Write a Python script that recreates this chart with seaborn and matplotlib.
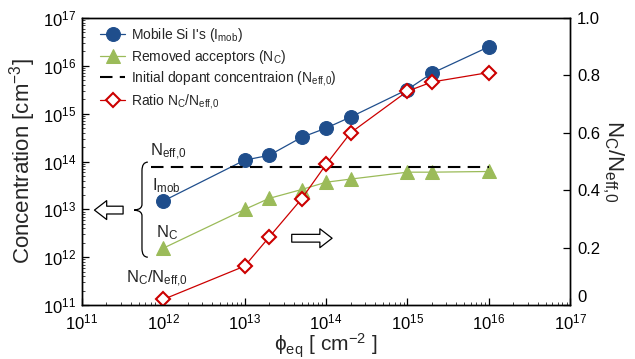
import numpy as np
import pandas as pd
import matplotlib
matplotlib.use('Agg')
import matplotlib.pyplot as plt
import matplotlib.ticker as mticker
from matplotlib.path import Path
from matplotlib.patches import PathPatch
import seaborn as sns

# data
fluence = [1e12, 1e13, 2e13, 5e13, 1e14, 2e14, 1e15, 2e15, 1e16]
i_mob = [1.5e13, 1.07e14, 1.35e14, 3.2e14, 5.0e14, 8.5e14, 3.2e15, 7.0e15, 2.5e16]
n_c = [1.55e12, 1.0e13, 1.7e13, 2.6e13, 3.7e13, 4.3e13, 6.0e13, 6.0e13, 6.2e13]
ratio = [0.02, 0.136, 0.237, 0.37, 0.49, 0.60, 0.745, 0.777, 0.81]
n_eff0 = 7.6e13
n_eff0_span = [7e11, 1e16]

df = pd.DataFrame({'phi': fluence, 'imob': i_mob, 'nc': n_c, 'ratio': ratio})

sns.set_style('ticks')
plt.rcParams['font.family'] = ['Liberation Sans', 'DejaVu Sans']
plt.rcParams['mathtext.fontset'] = 'custom'
plt.rcParams['mathtext.rm'] = 'Liberation Sans'
plt.rcParams['mathtext.it'] = 'Liberation Sans:italic'
plt.rcParams['mathtext.sf'] = 'Liberation Sans'

blue = '#1f4e8c'
green = '#9bbb59'
red = '#cc0000'

fig = plt.figure(figsize=(6.35, 3.59), dpi=100)
ax = fig.add_axes([0.129, 0.150, 0.769, 0.800])
ax2 = ax.twinx()

sns.lineplot(data=df, x='phi', y='imob', ax=ax, color=blue, marker='o', markersize=10,
             markeredgecolor=blue, linewidth=0.9, label=r"Mobile Si I's ($\mathregular{I_{mob}}$)")
sns.lineplot(data=df, x='phi', y='nc', ax=ax, color=green, marker='^', markersize=10,
             markeredgecolor=green, linewidth=0.9, label=r"Removed acceptors ($\mathregular{N_C}$)")
ax.plot(n_eff0_span, [n_eff0, n_eff0], color='black', linestyle=(0, (6, 3.5)), linewidth=1.5,
        label=r"Initial dopant concentraion ($\mathregular{N_{eff{,}0}}$)")
sns.lineplot(data=df, x='phi', y='ratio', ax=ax2, color=red, marker='D', markersize=7.5,
             markerfacecolor='white', markeredgecolor=red, markeredgewidth=1.5, linewidth=0.9,
             label=r"Ratio $\mathregular{N_C/N_{eff{,}0}}$")

ax.set_xscale('log')
ax.set_yscale('log')
ax.set_xlim(1e11, 1e17)
ax.set_ylim(1e11, 1e17)
ax2.set_ylim(0, 1.0)

dec = [1e11, 1e12, 1e13, 1e14, 1e15, 1e16, 1e17]
dec_labels = [r'$\mathregular{10^{%d}}$' % p for p in range(11, 18)]
ax.set_xticks(dec)
ax.set_xticklabels(dec_labels)
ax.set_yticks(dec)
ax.set_yticklabels(dec_labels)
ax.xaxis.set_minor_locator(mticker.LogLocator(base=10, subs=np.arange(2, 10), numticks=20))
ax.yaxis.set_minor_locator(mticker.LogLocator(base=10, subs=np.arange(2, 10), numticks=20))
ax.xaxis.set_minor_formatter(mticker.NullFormatter())
ax.yaxis.set_minor_formatter(mticker.NullFormatter())

r_ticks = [0, 0.2, 0.4, 0.6, 0.8, 1.0]
ax2.set_yticks(r_ticks)
ax2.set_yticklabels(['0', '0.2', '0.4', '0.6', '0.8', '1.0'])
# the "0" sits just above the corner, as in the reference
ax2.get_yticklabels()[0].set_verticalalignment('bottom')

ax.tick_params(which='major', direction='in', length=5, width=0.9, labelsize=12, colors='black')
ax.tick_params(which='minor', direction='in', length=2.5, width=0.6)
ax.tick_params(axis='x', which='major', pad=5)
ax.tick_params(axis='y', which='major', pad=4)
ax2.tick_params(direction='in', length=5, width=0.9, labelsize=12, colors='black', pad=5)
for a in (ax, ax2):
    for s in a.spines.values():
        s.set_linewidth(1.0)
        s.set_color('black')

ax.set_xlabel(r'$\mathregular{\phi_{eq}}$ [ cm$^{\mathregular{-2}}$ ]', fontsize=15, labelpad=0)
ax.set_ylabel(r'Concentration [cm$^{\mathregular{-3}}$]', fontsize=16, labelpad=4)
ax2.set_ylabel(r'$\mathregular{N_C/N_{eff{,}0}}$', fontsize=16, rotation=270, labelpad=18)

# legend collected from both axes
h1, l1 = ax.get_legend_handles_labels()
h2, l2 = ax2.get_legend_handles_labels()
if ax2.get_legend() is not None:
    ax2.get_legend().remove()
ax.legend(h1 + h2, l1 + l2, loc='upper left', frameon=False, fontsize=10,
          handlelength=1.8, handletextpad=0.4, labelspacing=0.25,
          borderaxespad=0.2, bbox_to_anchor=(0.02, 1.0))

# annotations
ax.text(6.9e11, 1.6e14, r'$\mathregular{N_{eff{,}0}}$', fontsize=12, va='center', ha='left')
ax.text(7.2e11, 3.2e13, r'$\mathregular{I_{mob}}$', fontsize=12, va='center', ha='left')
ax.text(8.1e11, 3.3e12, r'$\mathregular{N_C}$', fontsize=12, va='center', ha='left')
ax.text(3.5e11, 3.6e11, r'$\mathregular{N_C/N_{eff{,}0}}$', fontsize=12, va='center', ha='left')

# curly brace grouping the left-axis curves
bx, tipx = 0.123, 0.107
y0, y1, ym = 0.167, 0.498, 0.331
verts = [
    (bx + 0.012, y1), (bx, y1), (bx, y1 - 0.03),
    (bx, ym + 0.02),
    (bx, ym), (tipx, ym), (tipx, ym),
    (tipx, ym), (bx, ym), (bx, ym - 0.02),
    (bx, y0 + 0.03),
    (bx, y0), (bx + 0.012, y0),
]
codes = [Path.MOVETO, Path.CURVE3, Path.CURVE3,
         Path.LINETO,
         Path.CURVE4, Path.CURVE4, Path.CURVE4,
         Path.CURVE4, Path.CURVE4, Path.CURVE4,
         Path.LINETO,
         Path.CURVE3, Path.CURVE3]
ax.add_patch(PathPatch(Path(verts, codes), transform=ax.transAxes, fill=False,
                       edgecolor='black', linewidth=0.9, clip_on=False))

arrow_style = 'simple,head_length=1.1,head_width=1.7,tail_width=0.7'
ax.annotate('', xy=(0.020, 0.331), xytext=(0.090, 0.331), xycoords='axes fraction',
            arrowprops=dict(arrowstyle=arrow_style, mutation_scale=8,
                            facecolor='white', edgecolor='black', linewidth=0.9))
ax.annotate('', xy=(0.518, 0.233), xytext=(0.424, 0.233), xycoords='axes fraction',
            arrowprops=dict(arrowstyle=arrow_style, mutation_scale=8,
                            facecolor='white', edgecolor='black', linewidth=0.9))

fig.savefig('out.png', dpi=100)
